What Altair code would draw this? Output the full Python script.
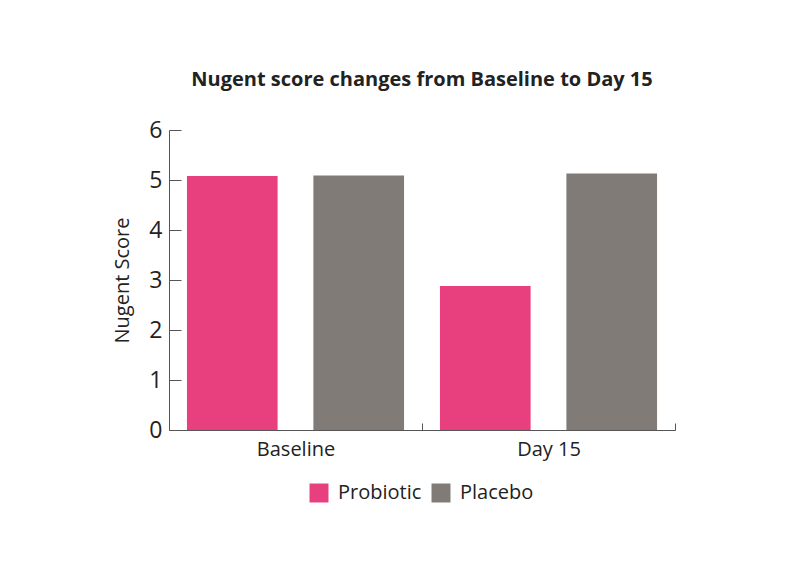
import altair as alt
import pandas as pd

timepoints = ["Baseline", "Baseline", "Day 15", "Day 15"]
groups = ["Probiotic", "Placebo", "Probiotic", "Placebo"]
scores = [5.08, 5.09, 2.88, 5.13]
timepoint_order = ["Baseline", "Day 15"]
group_order = ["Probiotic", "Placebo"]
y_ticks = [0, 1, 2, 3, 4, 5, 6]
colors = ["#E8407F", "#807B77"]

df = pd.DataFrame({"timepoint": timepoints, "group": groups, "score": scores})

chart = alt.Chart(df).mark_bar().encode(
    x=alt.X(
        "timepoint:N", sort=timepoint_order, title=None,
        scale=alt.Scale(paddingInner=0, paddingOuter=0),
        axis=alt.Axis(labelAngle=0, tickBand="extent", tickSize={"expr": "-7"},
                      labelFontSize=20, labelPadding=16, labelColor="#222222",
                      domainColor="#555555", tickColor="#555555"),
    ),
    xOffset=alt.XOffset("group:N", sort=group_order,
                        scale=alt.Scale(domain=group_order, paddingInner=0.283, paddingOuter=0.142)),
    y=alt.Y(
        "score:Q", scale=alt.Scale(domain=[0, 6]),
        axis=alt.Axis(values=y_ticks, tickSize={"expr": "-12"}, title="Nugent Score",
                      grid=False, labelFontSize=23, labelPadding=19, labelColor="#222222",
                      titleFontSize=20, titleFontWeight="normal", titleColor="#222222",
                      titlePadding=16, domainColor="#555555", tickColor="#555555"),
    ),
    color=alt.Color(
        "group:N", sort=group_order,
        scale=alt.Scale(domain=group_order, range=colors),
        legend=alt.Legend(title=None, orient="none", legendX=140, legendY=353,
                          direction="horizontal", symbolType="square", symbolSize=360,
                          symbolStrokeWidth=0, labelFontSize=20, labelColor="#222222",
                          labelOffset=9, columnPadding=9),
    ),
).properties(
    width=506, height=300,
    title=alt.TitleParams("Nugent score changes from Baseline to Day 15", fontSize=20,
                          fontWeight="bold", color="#222222", anchor="middle",
                          frame="group", baseline="alphabetic", offset=13),
    padding={"left": 161, "top": 122, "right": 117, "bottom": 128},
    autosize="none",
).configure(font="Open Sans").configure_view(stroke=None)

chart.save("out.html", embed_options={"renderer": "svg", "actions": False})
